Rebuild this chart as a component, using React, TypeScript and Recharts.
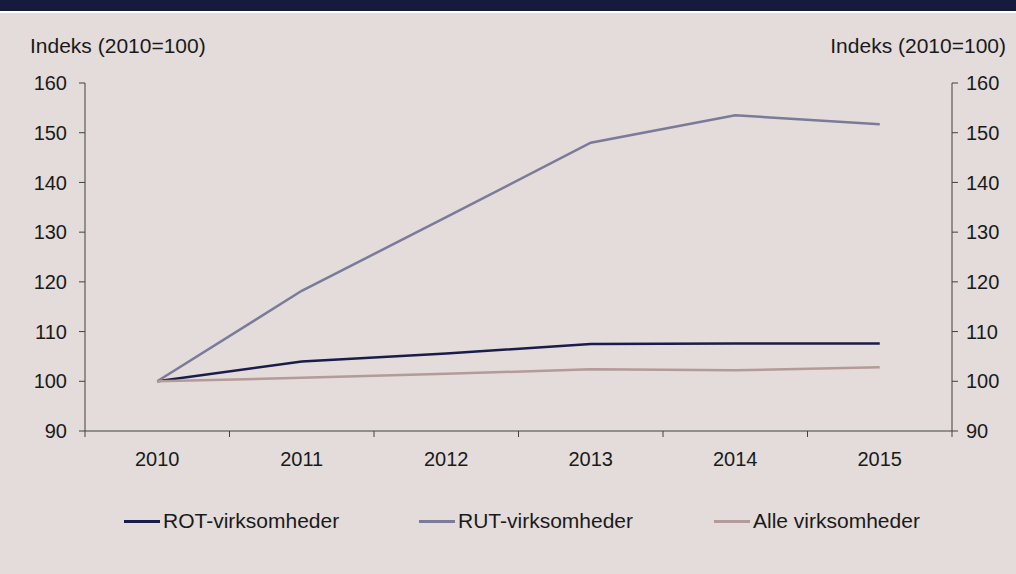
import React from 'react';
import { LineChart, Line, XAxis, YAxis, Legend } from 'recharts';

const years = ['2010', '2011', '2012', '2013', '2014', '2015'];
const rotValues = [100, 104, 105.6, 107.5, 107.6, 107.6];
const rutValues = [100, 118.2, 133, 148, 153.5, 151.7];
const alleValues = [100, 100.7, 101.5, 102.4, 102.2, 102.8];
const yTicks = [90, 100, 110, 120, 130, 140, 150, 160];

const seriesInfo = [
  { key: 'rot', name: 'ROT-virksomheder', color: '#1a1d4a' },
  { key: 'rut', name: 'RUT-virksomheder', color: '#7a7b99' },
  { key: 'alle', name: 'Alle virksomheder', color: '#b49a98' },
];

const chartData = years.map((year, i) => ({
  year,
  rot: rotValues[i],
  rut: rutValues[i],
  alle: alleValues[i],
}));

const FONT = '"Liberation Sans", Arial, sans-serif';
const TEXT = '#1a1a1a';
const AXIS = '#404040';

// x ticks sit between the categories, labels sit in the middle
const YearTick = (props: any) => {
  const { x, y, payload, index, visibleTicksCount } = props;
  const off = payload && payload.offset ? payload.offset : 72.25;
  const last = index === (visibleTicksCount ?? years.length) - 1;
  return (
    <g>
      <line x1={x - off} y1={y} x2={x - off} y2={y + 6} stroke={AXIS} strokeWidth={1} />
      {last && <line x1={x + off} y1={y} x2={x + off} y2={y + 6} stroke={AXIS} strokeWidth={1} />}
      <text x={x} y={y + 35} textAnchor="middle" fill={TEXT} fontSize={20} fontFamily={FONT}>
        {payload.value}
      </text>
    </g>
  );
};

const LegendBox = () => (
  <div style={{ display: 'flex', height: 30, alignItems: 'center', paddingLeft: 124, fontFamily: FONT }}>
    {seriesInfo.map((s) => (
      <div key={s.key} style={{ width: 295, display: 'flex', alignItems: 'center' }}>
        <div style={{ width: 36, height: 3, background: s.color, marginRight: 3 }} />
        <span style={{ fontSize: 21, color: TEXT }}>{s.name}</span>
      </div>
    ))}
  </div>
);

export default function App() {
  return (
    <div style={{ position: 'absolute', left: 0, top: 0, width: 1016, height: 574, background: '#e3dcdb', fontFamily: FONT }}>
      <div style={{ position: 'absolute', left: 0, top: 0, width: 1016, height: 11, background: '#161a3e' }} />
      <div style={{ position: 'absolute', left: 0, top: 11, width: 1016, height: 2, background: '#ffffff' }} />
      <div style={{ position: 'absolute', left: 30, top: 34, fontSize: 21, color: TEXT }}>Indeks (2010=100)</div>
      <div style={{ position: 'absolute', right: 10, top: 34, fontSize: 21, color: TEXT }}>Indeks (2010=100)</div>
      <LineChart
        width={1016}
        height={574}
        data={chartData}
        margin={{ top: 83, right: 0, left: 0, bottom: 38 }}
      >
        <XAxis
          dataKey="year"
          scale="band"
          height={75}
          stroke={AXIS}
          tickLine={false}
          tickSize={0}
          tickMargin={0}
          tick={<YearTick />}
          interval={0}
        />
        <YAxis
          yAxisId="left"
          width={85}
          domain={[90, 160]}
          ticks={yTicks}
          stroke={AXIS}
          tickSize={6}
          tickMargin={12}
          tick={{ fill: TEXT, fontSize: 20, fontFamily: FONT }}
        />
        <YAxis
          yAxisId="right"
          orientation="right"
          width={64}
          domain={[90, 160]}
          allowDataOverflow
          ticks={yTicks}
          stroke={AXIS}
          tickSize={6}
          tickMargin={8}
          tick={{ fill: TEXT, fontSize: 20, fontFamily: FONT }}
        />
        {seriesInfo.map((s) => (
          <Line
            key={s.key}
            yAxisId="left"
            type="linear"
            dataKey={s.key}
            name={s.name}
            stroke={s.color}
            strokeWidth={2.5}
            dot={false}
            activeDot={false}
            isAnimationActive={false}
          />
        ))}
        {/* same series on the right scale, invisible, so the right axis gets its ticks */}
        <Line
          yAxisId="right"
          type="linear"
          dataKey="rot"
          stroke="none"
          strokeWidth={0}
          dot={false}
          activeDot={false}
          legendType="none"
          isAnimationActive={false}
        />
        <Legend verticalAlign="bottom" height={30} content={<LegendBox />} />
      </LineChart>
    </div>
  );
}
